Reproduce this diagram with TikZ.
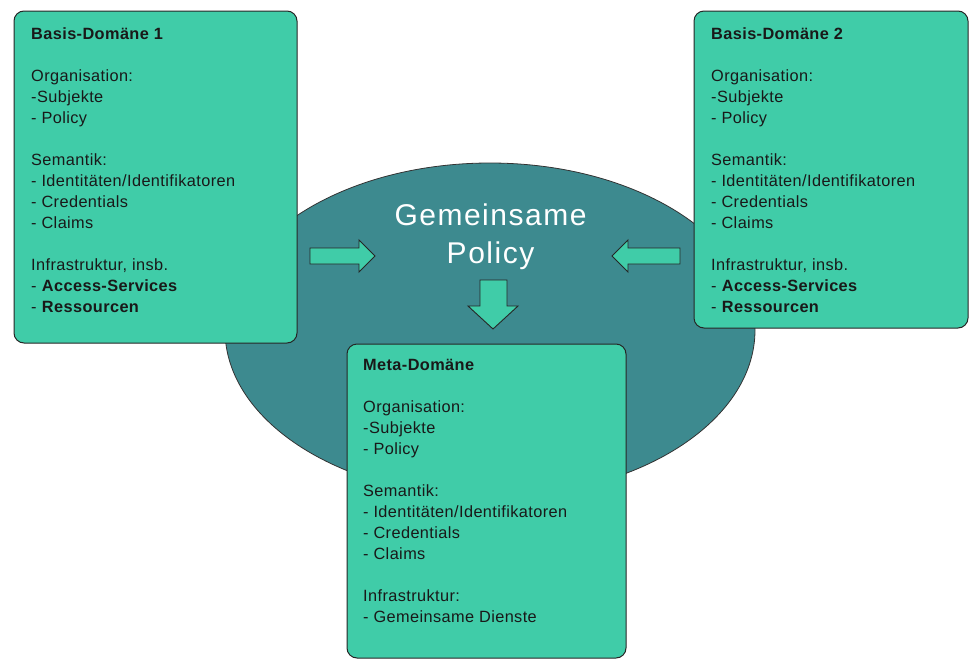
\documentclass[tikz,border=0pt]{standalone}
\usepackage{fontspec}
\setmainfont{Liberation Sans}
\newfontfamily\boxfont[LetterSpace=2.5]{Liberation Sans}
\newfontfamily\policyfont[LetterSpace=5]{Liberation Sans}
\usetikzlibrary{shapes.geometric}
\definecolor{boxgreen}{HTML}{40CCA8}
\definecolor{tealdark}{HTML}{3D8A8F}
\begin{document}
\begin{tikzpicture}[x=1pt,y=-1pt,
  dombox/.style={draw=black!85, line width=1pt, fill=boxgreen, rounded corners=10pt, inner sep=0pt},
  domtext/.style={anchor=north west, inner sep=0pt, align=left, font=\boxfont\fontsize{16.3}{21}\selectfont, text=black!90},
  blockarrow/.style={draw=black!85, line width=0.9pt, fill=boxgreen, line join=miter}]
\useasboundingbox (0,0) rectangle (969,659);
\node[ellipse, draw=black!80, line width=0.8pt, fill=tealdark, minimum width=530pt, minimum height=334pt, inner sep=0pt] (ell) at (490,330) {};
\node[dombox, minimum width=283pt, minimum height=332pt] (b1) at (155.5,177) {};
\node[dombox, minimum width=274pt, minimum height=317pt] (b2) at (831,169.5) {};
\draw[blockarrow] (310,248) -- (359,248) -- (359,240) -- (375,256) -- (359,272) -- (359,264) -- (310,264) -- cycle;
\draw[blockarrow] (680,248) -- (628,248) -- (628,240) -- (612,256) -- (628,272) -- (628,264) -- (680,264) -- cycle;
\draw[blockarrow] (480,280) -- (507,280) -- (507,306) -- (518,306) -- (493,329) -- (468,306) -- (480,306) -- cycle;
\node[anchor=north, align=center, text=white, font=\policyfont\fontsize{30}{38}\selectfont, inner sep=0pt] (gp) at (490.5,203.5) {Gemeinsame\\Policy};
\node[dombox, minimum width=279pt, minimum height=314pt] (mb) at (486.5,501) {};
\node[domtext] (t1) at (31,27.5) {\textbf{Basis-Domäne 1}\\[21pt] Organisation:\\ -Subjekte\\ - Policy\\[21pt] Semantik:\\ - Identitäten/Identifikatoren\\ - Credentials\\ - Claims\\[21pt] Infrastruktur, insb.\\ - \textbf{Access-Services}\\ - \textbf{Ressourcen}};
\node[domtext] (t2) at (711,27.5) {\textbf{Basis-Domäne 2}\\[21pt] Organisation:\\ -Subjekte\\ - Policy\\[21pt] Semantik:\\ - Identitäten/Identifikatoren\\ - Credentials\\ - Claims\\[21pt] Infrastruktur, insb.\\ - \textbf{Access-Services}\\ - \textbf{Ressourcen}};
\node[domtext] (t3) at (363,359.5) {\textbf{Meta-Domäne}\\[21pt] Organisation:\\ -Subjekte\\ - Policy\\[21pt] Semantik:\\ - Identitäten/Identifikatoren\\ - Credentials\\ - Claims\\[21pt] Infrastruktur:\\ - Gemeinsame Dienste};
\end{tikzpicture}
\end{document}
